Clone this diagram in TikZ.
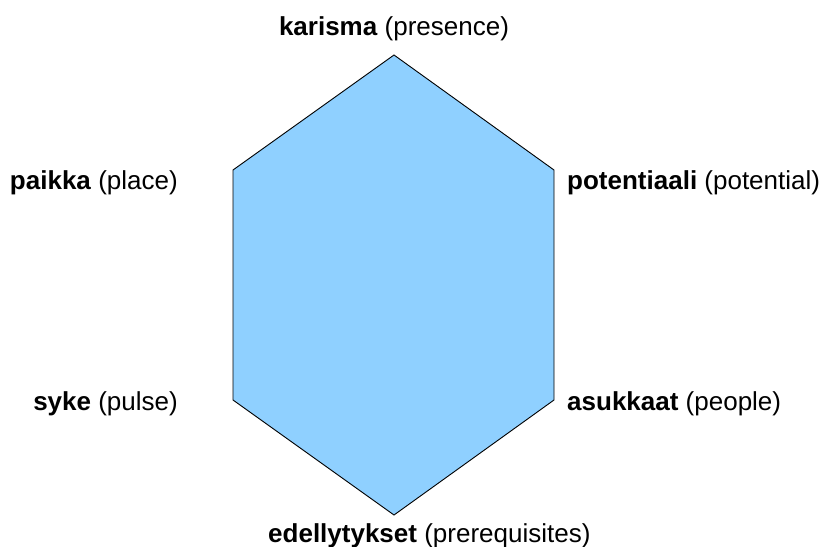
\documentclass[tikz,border=0pt]{standalone}
\usepackage{fontspec}
\setmainfont{Liberation Sans}
\usetikzlibrary{positioning}
\definecolor{hexfill}{HTML}{8FD0FF}

\begin{document}
\begin{tikzpicture}[
  x=1pt, y=-1pt,
  lbl/.style={inner sep=0pt, font=\fontsize{26}{30}\selectfont},
]
  \useasboundingbox (0,0) rectangle (821,546);

  % corners of the hexagon
  \coordinate (top) at (394,55);
  \coordinate (ul)  at (233,170);
  \coordinate (ur)  at (554,170);
  \coordinate (ll)  at (233,400);
  \coordinate (lr)  at (554,400);
  \coordinate (bot) at (394,515);

  \filldraw[fill=hexfill, draw=black, line width=0.9pt, line join=miter]
    (top) -- (ur) -- (lr) -- (bot) -- (ll) -- (ul) -- cycle;

  % labels round the corners
  \node[lbl, anchor=base]      (karisma) at (394,35)  {\textbf{karisma} (presence)};
  \node[lbl, anchor=base east] (paikka)  at (178,189) {\textbf{paikka} (place)};
  \node[lbl, anchor=base west] (potent)  at (567,189) {\textbf{potentiaali} (potential)};
  \node[lbl, anchor=base east] (syke)    at (178,410) {\textbf{syke} (pulse)};
  \node[lbl, anchor=base west] (asukkaat) at (567,410) {\textbf{asukkaat} (people)};
  \node[lbl, anchor=base west] (edell)   at (268,542) {\textbf{edellytykset} (prerequisites)};
\end{tikzpicture}
\end{document}
